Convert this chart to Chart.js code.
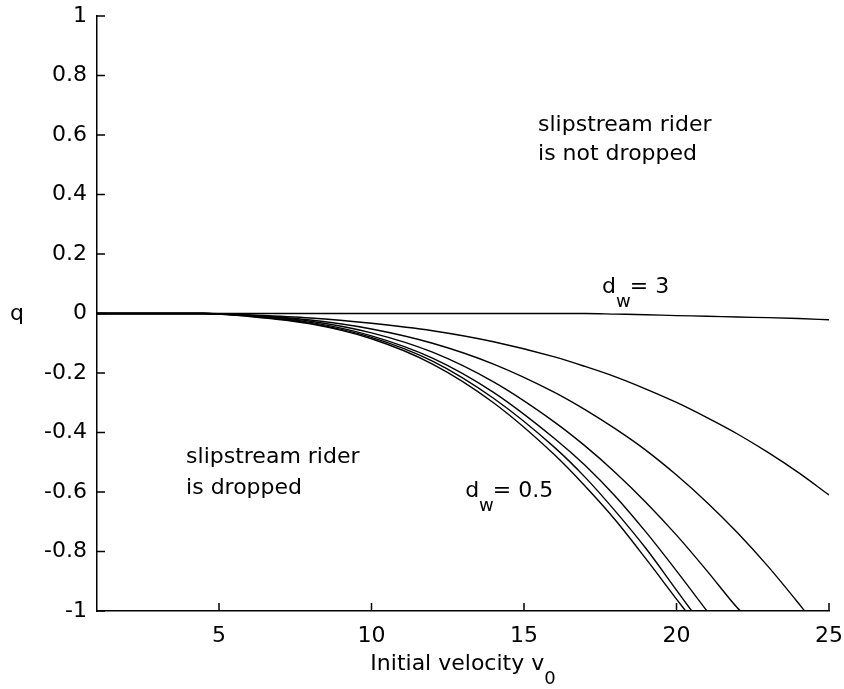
<!DOCTYPE html>
<html>
<head>
<meta charset="utf-8">
<script src="https://cdn.jsdelivr.net/npm/chart.js@4.4.0/dist/chart.umd.min.js"></script>
<style>
  html, body { margin: 0; padding: 0; background: #fff; }
</style>
</head>
<body>
<canvas id="qChart" width="844" height="689"></canvas>
<script>
// initial velocity where the curves were read
var vx = [1, 4.5, 6, 8, 10, 12, 14, 16, 17, 18, 19, 20, 21, 22, 23, 24, 25];

// q for each curve, lowest (d_w = 0.5) first, flat one (d_w = 3) last
var q1 = [0, 0, -0.010, -0.035, -0.085, -0.170, -0.300, -0.475, -0.580, -0.695, -0.825, -0.960, null, null, null, null, null];
var q2 = [0, 0, -0.009, -0.033, -0.080, -0.160, -0.285, -0.450, -0.550, -0.665, -0.790, -0.930, null, null, null, null, null];
var q3 = [0, 0, -0.008, -0.030, -0.075, -0.150, -0.265, -0.420, -0.510, -0.615, -0.735, -0.865, null, null, null, null, null];
var q4 = [0, 0, -0.007, -0.026, -0.065, -0.130, -0.230, -0.365, -0.445, -0.535, -0.635, -0.745, -0.865, -0.990, null, null, null];
var q5 = [0, 0, -0.006, -0.022, -0.052, -0.100, -0.170, -0.265, -0.323, -0.388, -0.460, -0.543, -0.635, -0.737, -0.850, -0.974, null];
var q6 = [0, 0, -0.005, -0.015, -0.033, -0.058, -0.095, -0.146, -0.178, -0.213, -0.254, -0.299, -0.350, -0.405, -0.467, -0.535, -0.610];
var q7 = [0, 0, 0, 0, 0, 0, 0, 0, 0, -0.002, -0.004, -0.007, -0.009, -0.012, -0.014, -0.017, -0.021];

// where a curve leaves through q = -1 (null: it reaches v0 = 25)
var exitX = [20.3, 20.5, 21.0, 22.1, 24.2, null, null];

var xTicks = [5, 10, 15, 20, 25];
var yTicks = [-1, -0.8, -0.6, -0.4, -0.2, 0, 0.2, 0.4, 0.6, 0.8, 1];

var FONT = "22px 'DejaVu Sans'";
var SUBFONT = "18px 'DejaVu Sans'";

function curvePoints(vals, exit) {
  var pts = [];
  for (var i = 0; i < vx.length; i++) {
    if (vals[i] !== null) pts.push({ x: vx[i], y: vals[i] });
  }
  if (exit !== null) pts.push({ x: exit, y: -1 });
  return pts;
}

var allCurves = [q1, q2, q3, q4, q5, q6, q7];
var datasets = allCurves.map(function (vals, i) {
  return {
    data: curvePoints(vals, exitX[i]),
    borderColor: '#000',
    borderWidth: 1.4,
    pointRadius: 0,
    fill: false,
    cubicInterpolationMode: 'monotone'
  };
});

// text placed in data units
var notes = [
  { text: 'slipstream rider', x: 15.46, y: 0.613 },
  { text: 'is not dropped', x: 15.46, y: 0.516 },
  { text: 'slipstream rider', x: 3.92, y: -0.503 },
  { text: 'is dropped', x: 3.92, y: -0.607 }
];
var dwNotes = [
  { value: '= 3', x: 17.56, y: 0.069 },
  { value: '= 0.5', x: 13.07, y: -0.617 }
];

function drawSub(ctx, x, y, main, sub, rest) {
  ctx.font = FONT;
  ctx.fillText(main, x, y);
  x += ctx.measureText(main).width;
  ctx.font = SUBFONT;
  ctx.fillText(sub, x, y + 14);
  x += ctx.measureText(sub).width;
  if (rest) {
    ctx.font = FONT;
    ctx.fillText(rest, x - 1, y);
  }
}

var decor = {
  id: 'decor',
  afterDraw: function (chart) {
    var ctx = chart.ctx;
    var xs = chart.scales.x, ys = chart.scales.y;
    var area = chart.chartArea;
    ctx.save();

    // inward tick marks
    ctx.strokeStyle = '#000';
    ctx.lineWidth = 1.5;
    ctx.beginPath();
    xTicks.forEach(function (v) {
      var p = xs.getPixelForValue(v);
      ctx.moveTo(p, area.bottom);
      ctx.lineTo(p, area.bottom - 8);
    });
    yTicks.forEach(function (v) {
      var p = ys.getPixelForValue(v);
      ctx.moveTo(area.left, p);
      ctx.lineTo(area.left + 8, p);
    });
    ctx.stroke();

    ctx.fillStyle = '#000';
    ctx.textBaseline = 'alphabetic';
    ctx.textAlign = 'left';
    ctx.font = FONT;
    notes.forEach(function (n) {
      ctx.fillText(n.text, xs.getPixelForValue(n.x), ys.getPixelForValue(n.y));
    });
    dwNotes.forEach(function (n) {
      drawSub(ctx, xs.getPixelForValue(n.x), ys.getPixelForValue(n.y), 'd', 'w', n.value);
    });

    // axis titles
    ctx.font = FONT;
    var main = 'Initial velocity v';
    var w1 = ctx.measureText(main).width;
    ctx.font = SUBFONT;
    var w2 = ctx.measureText('0').width;
    var cx = (area.left + area.right) / 2;
    drawSub(ctx, cx - (w1 + w2) / 2, area.bottom + 59, main, '0', null);

    ctx.font = FONT;
    ctx.textAlign = 'center';
    ctx.fillText('q', 17, ys.getPixelForValue(0) + 6);
    ctx.restore();
  }
};

function noPad(s) {
  s.paddingTop = 0;
  s.paddingBottom = 0;
  s.paddingLeft = 0;
  s.paddingRight = 0;
}

var ctx = document.getElementById('qChart').getContext('2d');
var qChart = new Chart(ctx, {
  type: 'line',
  data: { datasets: datasets },
  options: {
    responsive: false,
    animation: false,
    devicePixelRatio: 1,
    layout: { padding: { top: 16, right: 15, left: 0, bottom: 0 } },
    plugins: { legend: { display: false }, tooltip: { enabled: false } },
    scales: {
      x: {
        type: 'linear',
        min: 1,
        max: 25,
        afterBuildTicks: function (s) { s.ticks = xTicks.map(function (v) { return { value: v }; }); },
        afterFit: function (s) { s.height = 78; noPad(s); },
        grid: { display: false, drawTicks: false },
        border: { display: true, color: '#000', width: 1.5 },
        ticks: {
          color: '#000',
          font: { family: 'DejaVu Sans', size: 22 },
          padding: 12,
          maxRotation: 0,
          autoSkip: false
        }
      },
      y: {
        type: 'linear',
        min: -1,
        max: 1,
        afterBuildTicks: function (s) { s.ticks = yTicks.map(function (v) { return { value: v }; }); },
        afterFit: function (s) { s.width = 97; noPad(s); },
        grid: { display: false, drawTicks: false },
        border: { display: true, color: '#000', width: 1.5 },
        ticks: {
          color: '#000',
          font: { family: 'DejaVu Sans', size: 22 },
          padding: 10,
          autoSkip: false,
          callback: function (v) { return String(Math.round(v * 10) / 10); }
        }
      }
    }
  },
  plugins: [decor]
});
</script>
</body>
</html>
